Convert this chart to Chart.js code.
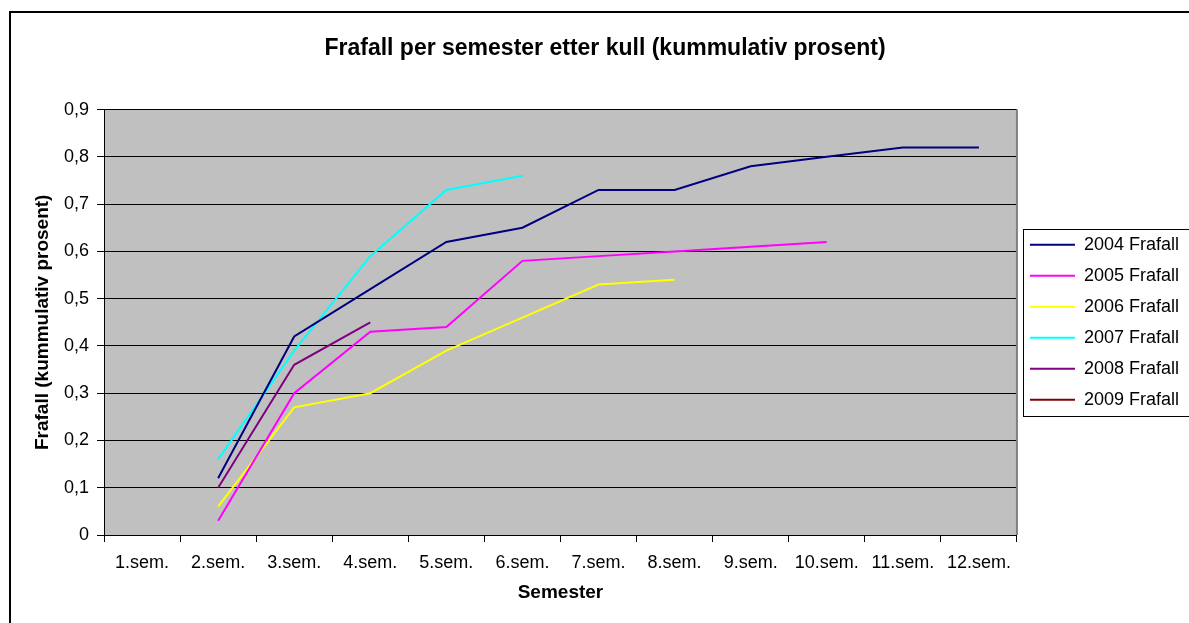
<!DOCTYPE html>
<html>

<head>
	<title>Frafall per semester</title>
	<style>
		body {
			margin: 0;
			overflow: hidden;
			background: #fff;
		}

		.frame {
			position: absolute;
			left: 9px;
			top: 11px;
			width: 2000px;
			height: 2000px;
			border: 2px solid #000;
			pointer-events: none;
		}
	</style>
</head>

<body>
	<div class="frame"></div>
	<canvas id="chart1" width="1189" height="623"></canvas>

	<script src="https://cdn.jsdelivr.net/npm/chart.js@4/dist/chart.umd.min.js"></script>
	<script>
		const semesters = ['1.sem.', '2.sem.', '3.sem.', '4.sem.', '5.sem.', '6.sem.',
			'7.sem.', '8.sem.', '9.sem.', '10.sem.', '11.sem.', '12.sem.'];

		const frafall2004 = [null, 0.12, 0.42, 0.52, 0.62, 0.65, 0.73, 0.73, 0.78, 0.80, 0.82, 0.82];
		const frafall2005 = [null, 0.03, 0.30, 0.43, 0.44, 0.58, 0.59, 0.60, 0.61, 0.62, null, null];
		const frafall2006 = [null, 0.06, 0.27, 0.30, 0.39, 0.46, 0.53, 0.54, null, null, null, null];
		const frafall2007 = [null, 0.16, 0.39, 0.59, 0.73, 0.76, null, null, null, null, null, null];
		const frafall2008 = [null, 0.10, 0.36, 0.45, null, null, null, null, null, null, null, null];
		const frafall2009 = [null, null, null, null, null, null, null, null, null, null, null, null];

		const yTickLabels = ['0', '0,1', '0,2', '0,3', '0,4', '0,5', '0,6', '0,7', '0,8', '0,9'];

		const FONT = "'Liberation Sans', Arial, sans-serif";

		function line(label, data, color) {
			return {
				label: label,
				data: data,
				borderColor: color,
				backgroundColor: color,
				borderWidth: 2,
				pointRadius: 0,
				tension: 0,
				fill: false
			};
		}

		// grey plot background + legend frame
		const plotStyle = {
			id: 'plotStyle',
			beforeDraw(chart) {
				const a = chart.chartArea;
				const c = chart.ctx;
				c.save();
				c.fillStyle = '#c0c0c0';
				c.fillRect(a.left, a.top, a.right - a.left, a.bottom - a.top);
				c.restore();
			},
			afterDraw(chart) {
				const a = chart.chartArea;
				const c = chart.ctx;
				c.save();
				c.strokeStyle = '#808080';
				c.lineWidth = 2;
				c.beginPath();
				c.moveTo(a.right, a.top);
				c.lineTo(a.right, a.bottom);
				c.stroke();

				const boxes = chart.legend.legendHitBoxes;
				if (boxes && boxes.length) {
					const first = boxes[0];
					const last = boxes[boxes.length - 1];
					c.strokeStyle = '#000';
					c.lineWidth = 1;
					c.strokeRect(Math.round(first.left - 7) + 0.5, Math.round(first.top - 7) + 0.5,
						300, Math.round(last.top + last.height + 7 - (first.top - 7)));
				}
				c.restore();
			}
		};

		const ctx = document.getElementById('chart1').getContext('2d');
		const chart = new Chart(ctx, {
			type: 'line',
			data: {
				labels: semesters,
				datasets: [
					line('2004 Frafall', frafall2004, '#000080'),
					line('2005 Frafall', frafall2005, '#ff00ff'),
					line('2006 Frafall', frafall2006, '#ffff00'),
					line('2007 Frafall', frafall2007, '#00ffff'),
					line('2008 Frafall', frafall2008, '#800080'),
					line('2009 Frafall', frafall2009, '#800000')
				]
			},
			options: {
				responsive: false,
				animation: false,
				layout: {
					padding: { left: 21, right: 0, top: 0, bottom: 0 }
				},
				plugins: {
					title: {
						display: true,
						text: 'Frafall per semester etter kull (kummulativ prosent)',
						color: '#000',
						font: { family: FONT, size: 23, weight: 'bold' },
						padding: { top: 35, bottom: 47 }
					},
					legend: {
						position: 'right',
						fullSize: false,
						labels: {
							color: '#000',
							font: { family: FONT, size: 18 },
							boxWidth: 45,
							boxHeight: 2,
							padding: 13,
							generateLabels(chart) {
								const items = Chart.defaults.plugins.legend.labels.generateLabels(chart);
								items.forEach(it => { it.lineWidth = 0; });
								return items;
							}
						}
					},
					tooltip: { enabled: false }
				},
				scales: {
					x: {
						offset: true,
						grid: {
							offset: true,
							drawOnChartArea: false,
							color: '#000',
							tickLength: 7
						},
						border: { color: '#000', width: 1 },
						ticks: {
							color: '#000',
							font: { family: FONT, size: 18 },
							padding: 10,
							maxRotation: 0,
							autoSkip: false
						},
						title: {
							display: true,
							text: 'Semester',
							color: '#000',
							font: { family: FONT, size: 19, weight: 'bold' },
							padding: { top: 0, bottom: 19 }
						},
						afterFit(scale) {
							scale.height = 88;
						}
					},
					y: {
						min: 0,
						max: 0.9,
						grid: {
							color: '#000',
							tickLength: 7
						},
						border: { color: '#000', width: 1 },
						ticks: {
							stepSize: 0.1,
							color: '#000',
							font: { family: FONT, size: 18 },
							padding: 8,
							callback: (v, i) => yTickLabels[i]
						},
						title: {
							display: true,
							text: 'Frafall (kummulativ prosent)',
							color: '#000',
							font: { family: FONT, size: 19, weight: 'bold' },
							padding: { top: 10, bottom: 0 }
						},
						afterFit(scale) {
							scale.width = 83;
						}
					}
				}
			},
			plugins: [plotStyle]
		});
	</script>
</body>

</html>
